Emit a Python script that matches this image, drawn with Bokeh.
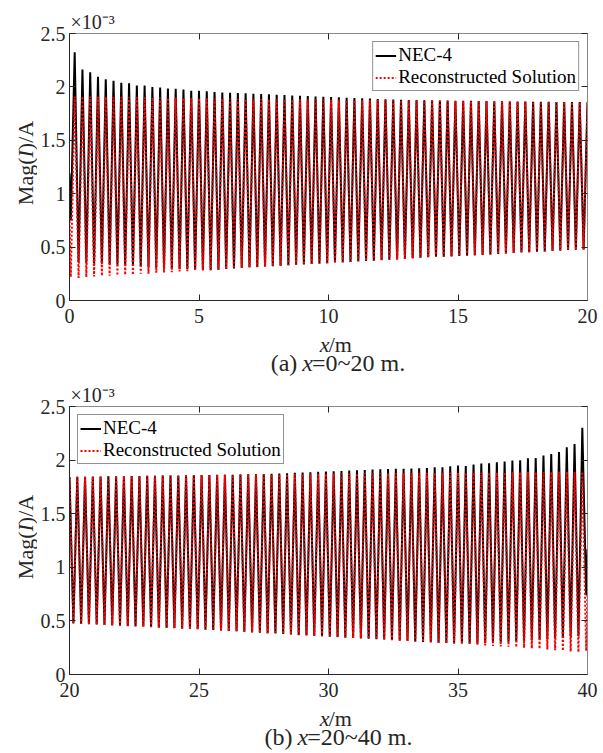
from bokeh.plotting import figure
from bokeh.models import Range1d, FixedTicker, LinearAxis, Label, CustomJSTickFormatter
from bokeh.layouts import column, row
from bokeh.embed import file_html
from bokeh.resources import INLINE

# ---------------- data (values in units of 1e-3 A) ----------------
PERIOD = 0.3                     # spacing of successive maxima along x (m)
A_FIRST_PEAK_X = 0.2
B_FIRST_PEAK_X = 20.0
A_LEAD_TROUGH_X = 0.05
B_END_TROUGH_X = 39.95
A_X_START = 0.0
B_X_END = 40.0

# Panel (a): x = 0 ~ 20 m
A_black_start = 1.19
A_black_lead_trough = 0.75
A_red_start = 0.78
A_red_lead_trough = 0.22

A_black_peaks = [
    2.325, 2.163, 2.138, 2.094, 2.072, 2.057, 2.038, 2.035, 2.013, 2.013,
    1.998, 1.995, 1.985, 1.982, 1.976, 1.963, 1.963, 1.960, 1.951, 1.948,
    1.945, 1.942, 1.940, 1.936, 1.933, 1.930, 1.926, 1.923, 1.920, 1.917,
    1.914, 1.911, 1.908, 1.905, 1.902, 1.899, 1.896, 1.893, 1.890, 1.887,
    1.884, 1.881, 1.879, 1.877, 1.876, 1.875, 1.874, 1.873, 1.872, 1.871,
    1.870, 1.869, 1.868, 1.867, 1.866, 1.865, 1.864, 1.863, 1.862, 1.861,
    1.860, 1.860, 1.859, 1.859, 1.858, 1.858, 1.857]
A_black_troughs = [
    0.360, 0.350, 0.350, 0.345, 0.340, 0.335, 0.330, 0.325, 0.320, 0.315,
    0.310, 0.305, 0.300, 0.295, 0.290, 0.288, 0.286, 0.286, 0.289, 0.294,
    0.300, 0.307, 0.310, 0.313, 0.319, 0.322, 0.325, 0.331, 0.334, 0.337,
    0.343, 0.346, 0.349, 0.355, 0.358, 0.361, 0.367, 0.370, 0.373, 0.379,
    0.382, 0.385, 0.391, 0.395, 0.401, 0.405, 0.409, 0.411, 0.414, 0.417,
    0.420, 0.423, 0.427, 0.431, 0.436, 0.441, 0.445, 0.449, 0.453, 0.456,
    0.460, 0.464, 0.468, 0.472, 0.475, 0.478]
A_red_peaks = [
    1.910, 1.910, 1.909, 1.908, 1.907, 1.906, 1.905, 1.904, 1.903, 1.902,
    1.901, 1.900, 1.899, 1.898, 1.897, 1.896, 1.895, 1.894, 1.893, 1.892,
    1.890, 1.889, 1.888, 1.887, 1.886, 1.885, 1.884, 1.884, 1.883, 1.882,
    1.881, 1.881, 1.880, 1.879, 1.879, 1.878, 1.877, 1.877, 1.876, 1.876,
    1.875, 1.875, 1.874, 1.873, 1.873, 1.872, 1.871, 1.870, 1.869, 1.869,
    1.868, 1.867, 1.866, 1.866, 1.865, 1.864, 1.863, 1.863, 1.862, 1.861,
    1.860, 1.860, 1.859, 1.859, 1.858, 1.857, 1.857]
A_red_troughs = [
    0.212, 0.218, 0.225, 0.231, 0.231, 0.234, 0.240, 0.240, 0.250, 0.250,
    0.259, 0.262, 0.265, 0.271, 0.274, 0.280, 0.280, 0.282, 0.287, 0.293,
    0.299, 0.306, 0.309, 0.312, 0.318, 0.321, 0.324, 0.330, 0.333, 0.336,
    0.342, 0.345, 0.348, 0.354, 0.357, 0.360, 0.366, 0.369, 0.372, 0.378,
    0.381, 0.384, 0.390, 0.394, 0.400, 0.404, 0.408, 0.410, 0.413, 0.416,
    0.419, 0.422, 0.426, 0.430, 0.435, 0.440, 0.444, 0.448, 0.452, 0.455,
    0.459, 0.463, 0.467, 0.471, 0.474, 0.477]

# Panel (b): x = 20 ~ 40 m
B_black_end_trough = 0.74
B_black_end = 1.17
B_red_end_trough = 0.22
B_red_end = 0.76

B_black_peaks = [
    1.843, 1.844, 1.845, 1.846, 1.847, 1.848, 1.849, 1.850, 1.851, 1.852,
    1.853, 1.854, 1.855, 1.856, 1.857, 1.858, 1.859, 1.860, 1.861, 1.862,
    1.863, 1.864, 1.865, 1.867, 1.869, 1.871, 1.873, 1.875, 1.878, 1.881,
    1.884, 1.887, 1.890, 1.893, 1.896, 1.899, 1.902, 1.905, 1.908, 1.911,
    1.914, 1.916, 1.918, 1.920, 1.922, 1.924, 1.927, 1.933, 1.933, 1.942,
    1.949, 1.945, 1.958, 1.967, 1.970, 1.980, 1.986, 1.995, 1.998, 2.017,
    2.020, 2.042, 2.057, 2.076, 2.119, 2.150, 2.302]
B_black_troughs = [
    0.477, 0.473, 0.470, 0.467, 0.464, 0.460, 0.457, 0.453, 0.450, 0.447,
    0.443, 0.439, 0.436, 0.433, 0.429, 0.426, 0.422, 0.419, 0.415, 0.411,
    0.407, 0.403, 0.398, 0.394, 0.390, 0.386, 0.382, 0.378, 0.374, 0.369,
    0.366, 0.362, 0.358, 0.353, 0.350, 0.346, 0.341, 0.338, 0.334, 0.329,
    0.326, 0.322, 0.317, 0.314, 0.308, 0.304, 0.301, 0.297, 0.294, 0.291,
    0.289, 0.288, 0.289, 0.292, 0.296, 0.300, 0.305, 0.310, 0.315, 0.320,
    0.326, 0.332, 0.338, 0.344, 0.350, 0.358]
B_red_peaks = [
    1.843, 1.844, 1.845, 1.846, 1.847, 1.848, 1.849, 1.850, 1.851, 1.852,
    1.853, 1.854, 1.855, 1.856, 1.857, 1.858, 1.859, 1.860, 1.861, 1.862,
    1.863, 1.864, 1.865, 1.866, 1.867, 1.867, 1.868, 1.869, 1.870, 1.870,
    1.871, 1.872, 1.872, 1.873, 1.874, 1.874, 1.875, 1.876, 1.876, 1.877,
    1.878, 1.878, 1.879, 1.880, 1.880, 1.881, 1.882, 1.882, 1.883, 1.883,
    1.884, 1.884, 1.885, 1.885, 1.886, 1.886, 1.887, 1.887, 1.888, 1.888,
    1.889, 1.889, 1.890, 1.890, 1.891, 1.891, 1.892]
B_red_troughs = [
    0.475, 0.471, 0.468, 0.465, 0.462, 0.458, 0.455, 0.451, 0.448, 0.445,
    0.441, 0.437, 0.434, 0.431, 0.427, 0.424, 0.420, 0.417, 0.413, 0.409,
    0.405, 0.401, 0.396, 0.392, 0.388, 0.384, 0.380, 0.376, 0.372, 0.367,
    0.364, 0.360, 0.356, 0.351, 0.348, 0.344, 0.339, 0.336, 0.332, 0.327,
    0.324, 0.320, 0.315, 0.312, 0.307, 0.303, 0.300, 0.295, 0.291, 0.288,
    0.283, 0.279, 0.275, 0.270, 0.266, 0.262, 0.258, 0.254, 0.249, 0.244,
    0.239, 0.233, 0.227, 0.221, 0.214, 0.208]

X_TICKS_A = [0, 5, 10, 15, 20]
X_TICKS_B = [20, 25, 30, 35, 40]
Y_TICKS = [0, 0.5, 1, 1.5, 2, 2.5]
LEGEND_LABELS = ["NEC-4", "Reconstructed Solution"]
Y_LABEL = [("Mag(", False), ("I", True), (")/A", False)]
X_LABEL = [("x", True), ("/m", False)]
CAPTION_A = [("(a) ", False), ("x", True), ("=0~20 m.", False)]
CAPTION_B = [("(b) ", False), ("x", True), ("=20~40 m.", False)]
EXPONENT = "\u00d710\u207b\u00b3"


def series_a(start, lead, peaks, troughs):
    xs = [A_X_START, A_LEAD_TROUGH_X]
    ys = [start, lead]
    for k, pk in enumerate(peaks):
        xp = A_FIRST_PEAK_X + k * PERIOD
        xs.append(xp); ys.append(pk)
        if k < len(troughs):
            xs.append(xp + PERIOD / 2); ys.append(troughs[k])
    return xs, ys


def series_b(peaks, troughs, end_trough, end):
    xs, ys = [], []
    for k, pk in enumerate(peaks):
        xp = B_FIRST_PEAK_X + k * PERIOD
        xs.append(xp); ys.append(pk)
        if k < len(troughs):
            xs.append(xp + PERIOD / 2); ys.append(troughs[k])
    xs += [B_END_TROUGH_X, B_X_END]
    ys += [end_trough, end]
    return xs, ys


# ---------------- styling / layout ----------------
FONT = "Liberation Serif"
AX = "#262626"
AX_LIGHT = "#8a8a8a"
W = 603
LEFT_W = 37          # strip holding the rotated y label
MAIN_W = W - LEFT_W
FRAME_LEFT = 67      # page x of the plot frame's left edge

# Times / Liberation Serif advance widths (per 1000 em); the space is widened
# a little because SVG drops trailing blanks of a text run
W_REG = {' ': 330, '(': 333, ')': 333, 'a': 444, 'b': 500, '=': 564, '~': 541,
         'm': 778, '.': 250, '/': 278, 'M': 889, 'g': 500, 'A': 722,
         '0': 500, '1': 500, '2': 500, '3': 500, '4': 500, '5': 500, '-': 333}
W_IT = {'x': 444, 'I': 333}


def twidth(s, size, italic=False):
    tab = W_IT if italic else W_REG
    return sum(tab.get(c, 500) for c in s) * size / 1000.0


def text_strip(w, h):
    s = figure(width=w, height=h, x_range=Range1d(0, w), y_range=Range1d(0, h),
               x_axis_type=None, y_axis_type=None, output_backend="svg",
               toolbar_location=None, min_border=0)
    s.outline_line_color = None
    s.grid.visible = False
    s.background_fill_color = "white"
    s.border_fill_color = "white"
    return s


def add_label(p, **kw):
    p.add_layout(Label(text_font=FONT, text_color=AX, **kw))


def rich_text(p, pieces, cx, cy, size, vertical=False):
    total = sum(twidth(t, size, it) for t, it in pieces)
    pos = -total / 2.0
    for t, it in pieces:
        if vertical:
            lx, ly, ang = cx, cy + pos, 1.5707963267948966
        else:
            lx, ly, ang = cx + pos, cy, 0.0
        add_label(p, x=lx, y=ly, text=t, angle=ang,
                  text_font_size=f"{size}px",
                  text_font_style="italic" if it else "normal",
                  text_align="left", text_baseline="middle")
        pos += twidth(t, size, it)


def style_axis(ax, ticks, labels=True, line_color=AX, standoff=5):
    ax.ticker = FixedTicker(ticks=ticks)
    ax.formatter = CustomJSTickFormatter(code="return String(tick);" if labels else "return '';")
    ax.major_tick_in = 6
    ax.major_tick_out = 0
    ax.minor_tick_in = 0
    ax.minor_tick_out = 0
    ax.axis_line_color = line_color
    ax.axis_line_width = 1
    ax.major_tick_line_color = AX
    ax.major_tick_line_width = 1
    ax.major_label_text_font = FONT
    ax.major_label_text_font_size = "20px" if labels else "0px"
    ax.major_label_text_color = AX
    ax.major_label_standoff = standoff if labels else 0


def make_panel(y0, height, frame_top, frame_h, xr, xticks, black, red, legend_loc,
               caption, ylab_cy, xlab_cy, cap_cy):
    """frame_top, *_cy are absolute page y coordinates."""
    bt, bb = frame_top - y0, 31
    main_h = bt + frame_h + bb
    bot_h = height - main_h

    p = figure(width=MAIN_W, height=main_h, x_range=Range1d(*xr), y_range=Range1d(0, 2.5),
               output_backend="svg", toolbar_location=None,
               min_border_left=FRAME_LEFT - LEFT_W, min_border_right=16,
               min_border_top=bt, min_border_bottom=bb)
    p.xgrid.visible = False
    p.ygrid.visible = False
    p.outline_line_color = None
    p.background_fill_color = "white"
    p.border_fill_color = "white"

    # x10^-3 multiplier as the plot title, left aligned over the frame
    p.title.text = EXPONENT
    p.title.align = "left"
    p.title.offset = 1
    p.title.standoff = 1
    p.title.text_font = FONT
    p.title.text_font_size = "20px"
    p.title.text_font_style = "normal"
    p.title.text_color = AX

    style_axis(p.xaxis[0], xticks, standoff=8)
    style_axis(p.yaxis[0], Y_TICKS, standoff=4)
    top_ax = LinearAxis()
    style_axis(top_ax, xticks, labels=False, line_color=AX_LIGHT)
    p.add_layout(top_ax, "above")
    right_ax = LinearAxis()
    style_axis(right_ax, Y_TICKS, labels=False, line_color=AX_LIGHT)
    p.add_layout(right_ax, "right")

    p.line(black[0], black[1], line_color="black", line_width=2,
           legend_label=LEGEND_LABELS[0])
    p.line(red[0], red[1], line_color="#ff0000", line_width=2, line_dash="2 2",
           legend_label=LEGEND_LABELS[1])

    lg = p.legend[0]
    lg.location = legend_loc
    lg.margin = 8
    lg.padding = 2
    lg.spacing = 0
    lg.glyph_width = 21
    lg.glyph_height = 21
    lg.label_height = 21
    lg.label_standoff = 2
    lg.border_line_color = AX
    lg.border_line_width = 1
    lg.background_fill_alpha = 1.0
    lg.label_text_font = FONT
    lg.label_text_font_size = "19px"
    lg.label_text_color = "black"

    page_bottom = y0 + height

    # strip left of the plot: rotated y label
    left = text_strip(LEFT_W, height)
    rich_text(left, Y_LABEL, 24.5, page_bottom - ylab_cy, 22, vertical=True)

    # strip below the plot: x label and caption
    bot = text_strip(MAIN_W, bot_h)
    rich_text(bot, X_LABEL, 327 - LEFT_W, page_bottom - xlab_cy, 22)
    rich_text(bot, caption, 327 - LEFT_W, page_bottom - cap_cy, 24)

    return row(left, column(p, bot, spacing=0), spacing=0)


panel_a = make_panel(0, 379, 33, 267, (0, 20), X_TICKS_A,
                     series_a(A_black_start, A_black_lead_trough, A_black_peaks, A_black_troughs),
                     series_a(A_red_start, A_red_lead_trough, A_red_peaks, A_red_troughs),
                     "top_right", CAPTION_A, 162.5, 344, 362)
panel_b = make_panel(379, 374, 406, 268, (20, 40), X_TICKS_B,
                     series_b(B_black_peaks, B_black_troughs, B_black_end_trough, B_black_end),
                     series_b(B_red_peaks, B_red_troughs, B_red_end_trough, B_red_end),
                     "top_left", CAPTION_B, 536.5, 718, 736)

layout = column(panel_a, panel_b, spacing=0)
open("out.html", "w").write(file_html(layout, INLINE))
